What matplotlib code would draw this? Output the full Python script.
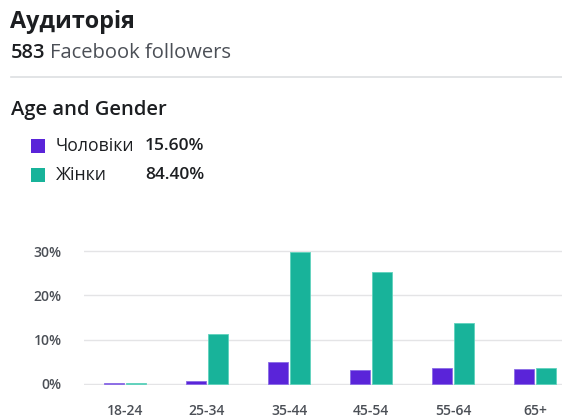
import matplotlib
matplotlib.use("Agg")
import matplotlib.pyplot as plt
import numpy as np
from matplotlib.lines import Line2D
from matplotlib.patches import Rectangle

plt.rcParams['font.family'] = ['Open Sans', 'DejaVu Sans']

title = "Аудиторія"
followers = "583"
subtitle = "Facebook followers"
section = "Age and Gender"
series_names = ["Чоловіки", "Жінки"]
series_totals = ["15.60%", "84.40%"]
categories = ["18-24", "25-34", "35-44", "45-54", "55-64", "65+"]
men = [0.2, 0.5, 5.0, 3.0, 3.5, 3.3]
women = [0.2, 11.2, 29.8, 25.2, 13.8, 3.6]
yticks = [0, 10, 20, 30]
ytick_labels = ["0%", "10%", "20%", "30%"]

W, H = 562, 418
fig = plt.figure(figsize=(W / 100, H / 100), dpi=100)

def fx(px):
    return px / W

def fy(py):
    return 1 - py / H

purple = "#5a24d9"
teal = "#18b39a"
dark = "#1c1e21"
grey = "#4b4f56"

# Header
fig.text(fx(10), fy(22), title, fontsize=16.8, fontweight='bold', color=dark, va='center', ha='left')
t = fig.text(fx(11), fy(53), followers, fontsize=14.5, fontweight='semibold', color=dark, va='center', ha='left')
fig.canvas.draw()
bb = t.get_window_extent()
fig.text(bb.x1 / W + fx(5), fy(53), subtitle, fontsize=14.5, color=grey, va='center', ha='left')
fig.add_artist(Line2D([fx(11), 1.0], [fy(76.7), fy(76.7)], color="#dddfe2", lw=1.2, transform=fig.transFigure))
fig.text(fx(11), fy(110), section, fontsize=14.5, fontweight='semibold', color=dark, va='center', ha='left')

# Legend
colors = [purple, teal]
rows_y = [146, 175]
for name, tot, c, yy in zip(series_names, series_totals, colors, rows_y):
    fig.add_artist(Rectangle((fx(31), fy(yy + 7)), fx(14), 14 / H, transform=fig.transFigure,
                             facecolor=c, edgecolor='none'))
    fig.text(fx(56), fy(yy), name, fontsize=12.7, color=dark, va='center', ha='left')
    fig.text(fx(204), fy(yy), tot, fontsize=12.5, fontweight='semibold', color=dark, va='center', ha='right')

# Chart axes
px10 = 44.2
zero_px = 383.7
ymin, ymax = -0.3, 31.0
bottom_px = zero_px - ymin * px10 / 10
top_px = zero_px - ymax * px10 / 10
ax = fig.add_axes([fx(84), fy(bottom_px), fx(562 - 84), (bottom_px - top_px) / H])
ax.set_ylim(ymin, ymax)
step = 82.0
ax.set_xlim(-0.5, (562 - 125) / step)

x = np.arange(len(categories))
bw = 20 / step
off = 11 / step
ax.bar(x - off, men, width=bw, color=purple, edgecolor="#8a6ce6", linewidth=0.6, zorder=3)
ax.bar(x + off, women, width=bw, color=teal, edgecolor="#5fd3bd", linewidth=0.6, zorder=3)

ax.set_yticks(yticks)
ax.set_yticklabels(ytick_labels)
ax.set_xticks(x)
ax.set_xticklabels(categories)
ax.yaxis.grid(True, color="#e4e4e6", lw=1.0, zorder=0)
ax.set_axisbelow(True)
for s in ax.spines.values():
    s.set_visible(False)
ax.tick_params(axis='both', length=0, colors=grey, labelsize=10)
ax.tick_params(axis='y', pad=16)
ax.tick_params(axis='x', pad=14)
for lab in ax.get_xticklabels() + ax.get_yticklabels():
    lab.set_fontweight('semibold')
    lab.set_color(grey)

fig.savefig("out.png", dpi=100)
